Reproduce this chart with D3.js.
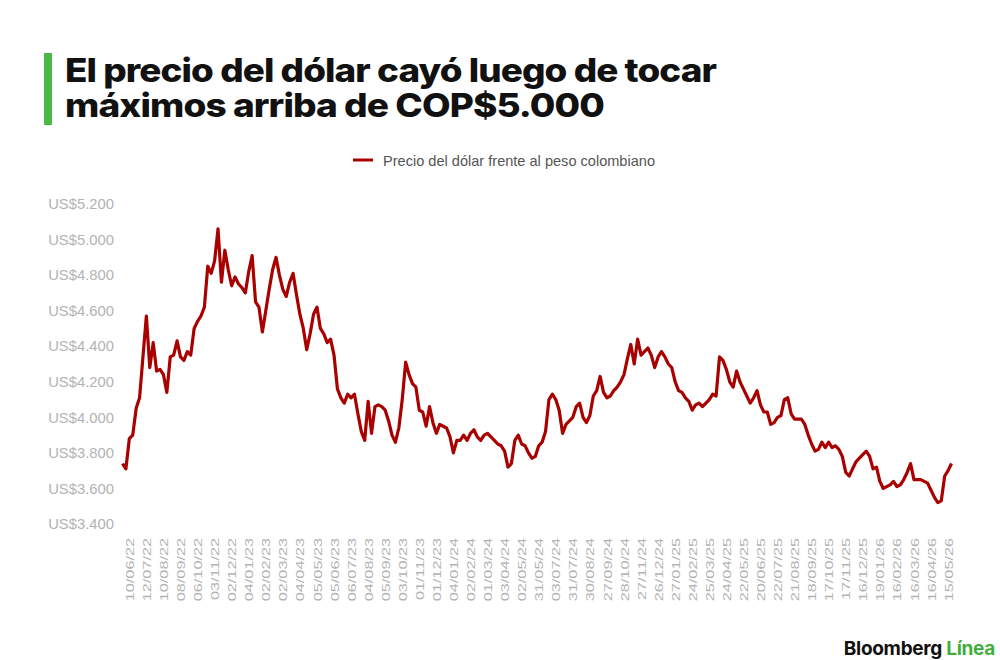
<!DOCTYPE html>
<html>
<head>
<meta charset="utf-8">
<script src="https://cdn.jsdelivr.net/npm/d3@7"></script>
<style>
    body { margin: 0; background: #fff; }
    svg { display: block; }
</style>
</head>
<body>
<div></div>
<script>
const dateLabels = ['10/06/22', '12/07/22', '10/08/22', '08/09/22', '06/10/22', '03/11/22', '02/12/22',
    '04/01/23', '02/02/23', '02/03/23', '04/04/23', '05/05/23', '05/06/23', '06/07/23', '04/08/23',
    '05/09/23', '03/10/23', '01/11/23', '01/12/23', '04/01/24', '02/02/24', '01/03/24', '03/04/24',
    '02/05/24', '31/05/24', '03/07/24', '31/07/24', '30/08/24', '27/09/24', '28/10/24', '27/11/24',
    '26/12/24', '27/01/25', '24/02/25', '25/03/25', '24/04/25', '22/05/25', '20/06/25', '22/07/25',
    '21/08/25', '18/09/25', '17/10/25', '17/11/25', '16/12/25', '19/01/26', '16/02/26', '16/03/26',
    '16/04/26', '15/05/26'];

// precio del dólar en pesos
const prices = [
    3740, 3710, 3880, 3900, 4050, 4110, 4340, 4570, 4280, 4420,
    4260, 4270, 4240, 4140, 4340, 4350, 4430, 4340, 4320, 4370,
    4350, 4500, 4540, 4570, 4620, 4850, 4810, 4880, 5060, 4760,
    4940, 4830, 4740, 4790, 4750, 4730, 4700, 4820, 4910, 4650,
    4620, 4480, 4600, 4720, 4830, 4900, 4800, 4720, 4680, 4760,
    4810, 4690, 4580, 4500, 4380, 4470, 4580, 4620, 4500, 4470,
    4420, 4440, 4350, 4160, 4110, 4080, 4130, 4110, 4130, 4020,
    3920, 3870, 4090, 3910, 4060, 4070, 4060, 4040, 3980, 3900,
    3860, 3940, 4100, 4310, 4240, 4190, 4170, 4040, 4030, 3950,
    4060, 3970, 3910, 3960, 3950, 3940, 3890, 3800, 3870, 3870,
    3900, 3870, 3910, 3930, 3890, 3870, 3900, 3910, 3890, 3870,
    3850, 3840, 3810, 3720, 3740, 3870, 3900, 3850, 3840, 3800,
    3770, 3780, 3840, 3860, 3920, 4100, 4130, 4100, 4040, 3910,
    3960, 3980, 4000, 4060, 4080, 4000, 3970, 4010, 4120, 4150,
    4230, 4140, 4110, 4120, 4150, 4170, 4200, 4240, 4330, 4410,
    4300, 4440, 4350, 4370, 4390, 4350, 4280, 4340, 4370, 4340,
    4300, 4280, 4200, 4150, 4140, 4110, 4090, 4040, 4070, 4080,
    4060, 4080, 4100, 4130, 4120, 4340, 4320, 4270, 4200, 4170,
    4260, 4200, 4160, 4120, 4080, 4110, 4150, 4070, 4030, 4030,
    3960, 3970, 4000, 4010, 4100, 4110, 4020, 3990, 3990, 3990,
    3960, 3900, 3850, 3810, 3820, 3860, 3830, 3860, 3830, 3840,
    3820, 3780, 3690, 3670, 3710, 3750, 3770, 3790, 3810, 3780,
    3710, 3720, 3640, 3600, 3610, 3620, 3640, 3610, 3620, 3650,
    3690, 3740, 3650, 3650, 3650, 3640, 3630, 3590, 3550, 3520,
    3530, 3670, 3700, 3740];

const yTicks = [3400, 3600, 3800, 4000, 4200, 4400, 4600, 4800, 5000, 5200];
const labelEvery = 5,
    labelOffset = 2;

const svgWidth = 1000,
    svgHeight = 660;

const svg = d3.select('body')
                .select('div')
                .append('svg')
                .attr('width', svgWidth)
                .attr('height', svgHeight);

// title block
svg.append('rect')
    .attr('x', 44)
    .attr('y', 53)
    .attr('width', 8)
    .attr('height', 72)
    .attr('fill', '#4cb848');

const title = svg.append('text')
                .attr('font-family', 'Inter, Roboto, sans-serif')
                .attr('font-weight', 800)
                .attr('font-size', 33)
                .attr('letter-spacing', -0.8)
                .attr('fill', '#111');
title.append('tspan')
    .attr('x', 65).attr('y', 81.5)
    .attr('textLength', 651).attr('lengthAdjust', 'spacingAndGlyphs')
    .text('El precio del dólar cayó luego de tocar');
title.append('tspan')
    .attr('x', 65).attr('y', 116.5)
    .attr('textLength', 539).attr('lengthAdjust', 'spacingAndGlyphs')
    .text('máximos arriba de COP$5.000');

// legend
svg.append('line')
    .attr('x1', 353)
    .attr('x2', 373)
    .attr('y1', 160)
    .attr('y2', 160)
    .attr('stroke', '#a90000')
    .attr('stroke-width', 3);

svg.append('text')
    .attr('x', 383)
    .attr('y', 165.5)
    .attr('font-family', '"Liberation Sans", Arial, sans-serif')
    .attr('font-size', 14.5)
    .attr('textLength', 272)
    .attr('lengthAdjust', 'spacingAndGlyphs')
    .attr('fill', '#555')
    .text('Precio del dólar frente al peso colombiano');

// scales
const xScale = d3.scaleLinear()
                .domain([0, prices.length - 1])
                .range([122.5, 951.5]);

const yScale = d3.scaleLinear()
                .domain([3400, 5200])
                .range([524, 204]);

const yAxis = d3.axisLeft(yScale)
                .tickValues(yTicks)
                .tickSize(0)
                .tickFormat(d => 'US$' + d3.format(',')(d).replace(',', '.'));

svg.append('g')
    .attr('id', 'y-axis')
    .attr('transform', 'translate(114, 0)')
    .call(yAxis)
    .call(g => g.select('.domain').remove())
    .call(g => g.selectAll('text')
                .attr('font-family', '"Liberation Sans", Arial, sans-serif')
                .attr('font-size', 14.8)
                .attr('fill', '#b3b3b3')
                .attr('x', 0));

const tickIdx = dateLabels.map((d, i) => labelOffset + i * labelEvery);

const xAxis = d3.axisBottom(xScale)
                .tickValues(tickIdx)
                .tickSize(0)
                .tickFormat((d, i) => dateLabels[i]);

svg.append('g')
    .attr('id', 'x-axis')
    .attr('transform', 'translate(0, 538)')
    .call(xAxis)
    .call(g => g.select('.domain').remove())
    .call(g => g.selectAll('text')
                .attr('font-family', '"Liberation Sans", Arial, sans-serif')
                .attr('font-size', 11.6)
                .attr('fill', '#b3b3b3')
                .attr('transform', 'rotate(-90) scale(1.4, 1)')
                .attr('text-anchor', 'end')
                .attr('x', 0)
                .attr('y', 0)
                .attr('dy', '0.35em'));

// the line
const line = d3.line()
                .x((d, i) => xScale(i))
                .y(d => yScale(d));

svg.append('path')
    .datum(prices)
    .attr('d', line)
    .attr('fill', 'none')
    .attr('stroke', '#a90000')
    .attr('stroke-width', 3.2)
    .attr('stroke-linejoin', 'round');

// logo
const logo = svg.append('text')
                .attr('x', 995)
                .attr('y', 655)
                .attr('text-anchor', 'end')
                .attr('font-family', 'Inter, Roboto, sans-serif')
                .attr('font-weight', 700)
                .attr('font-size', 19)
                .attr('letter-spacing', -0.3);
logo.append('tspan').attr('fill', '#111').text('Bloomberg ');
logo.append('tspan').attr('fill', '#3fae3a').text('Línea');
</script>
</body>
</html>
